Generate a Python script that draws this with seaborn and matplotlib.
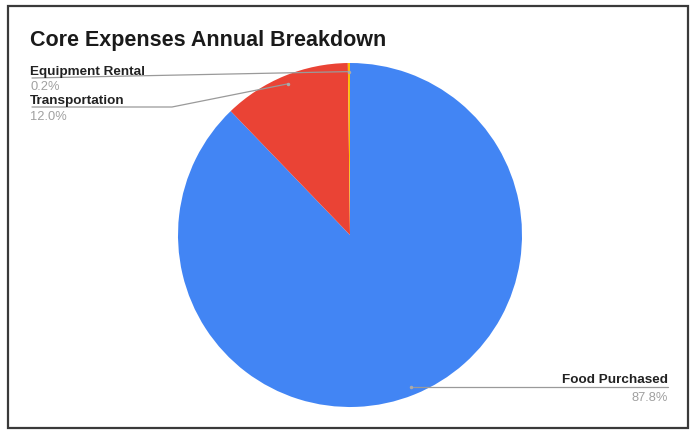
import numpy as np
import matplotlib
matplotlib.use("Agg")
import matplotlib.pyplot as plt
import seaborn as sns
from matplotlib.patches import Rectangle

# ---- data ----
title = "Core Expenses Annual Breakdown"
categories = ["Food Purchased", "Transportation", "Equipment Rental"]
values = [87.8, 12.0, 0.2]
pct_labels = ["87.8%", "12.0%", "0.2%"]
colors = ["#4285F4", "#EA4335", "#FBBC04"]

sns.set_theme(style="white")
plt.rcParams["font.family"] = ["Liberation Sans", "DejaVu Sans"]

W, H = 697, 431
fig = plt.figure(figsize=(W / 100, H / 100), dpi=100)
ax = fig.add_axes([0, 0, 1, 1])

def Y(y):
    return H - y

cx, cy, R = 350, 236, 172
wedges, _ = ax.pie(values, colors=sns.color_palette(colors), startangle=90,
                   counterclock=False, center=(cx, Y(cy)), radius=R,
                   wedgeprops=dict(linewidth=0), frame=True)
ax.set_xlim(0, W)
ax.set_ylim(0, H)
ax.set_aspect("equal")
ax.axis("off")

# frame
ax.add_patch(Rectangle((8, Y(429)), 680, 422, fill=False, edgecolor="#3a3a3a",
                       linewidth=1.6, zorder=5))

ax.text(30, Y(40), title, fontsize=15.5, fontweight="bold", color="#1a1a1a",
        va="center", ha="left")

# label layout: (text x, label y, line y, pct y, ha, elbow x)
layout = {
    "Food Purchased": (668, 380, 388, 398, "right", None),
    "Transportation": (30, 101, 108, 117, "left", 172),
    "Equipment Rental": (30, 72, 79, 87, "left", None),
}
line_col = "#9a9a9a"
for w, cat, pct in zip(wedges, categories, pct_labels):
    ang = np.deg2rad((w.theta1 + w.theta2) / 2)
    ax_ = cx + 0.95 * R * np.cos(ang)
    ay_ = Y(cy) + 0.95 * R * np.sin(ang)
    tx, ly, liy, py, ha, elbow = layout[cat]
    ax.plot([ax_], [ay_], marker="o", ms=1.5, color="#aaaaaa", zorder=4)
    if ha == "right":
        xs = [ax_, tx]
        ys = [Y(liy), Y(liy)]
    else:
        if elbow is not None:
            xs = [ax_, elbow, tx + 2]
            ys = [ay_, Y(liy), Y(liy)]
        else:
            xs = [ax_, tx + 2]
            ys = [ay_, Y(liy)]
    ax.plot(xs, ys, color=line_col, linewidth=0.9, zorder=3)
    ax.text(tx, Y(ly), cat, fontsize=9.7, fontweight="bold", color="#222222",
            ha=ha, va="center")
    ax.text(tx, Y(py), pct, fontsize=9.3, color="#a0a0a0", ha=ha, va="center")

fig.savefig("out.png", dpi=100)
